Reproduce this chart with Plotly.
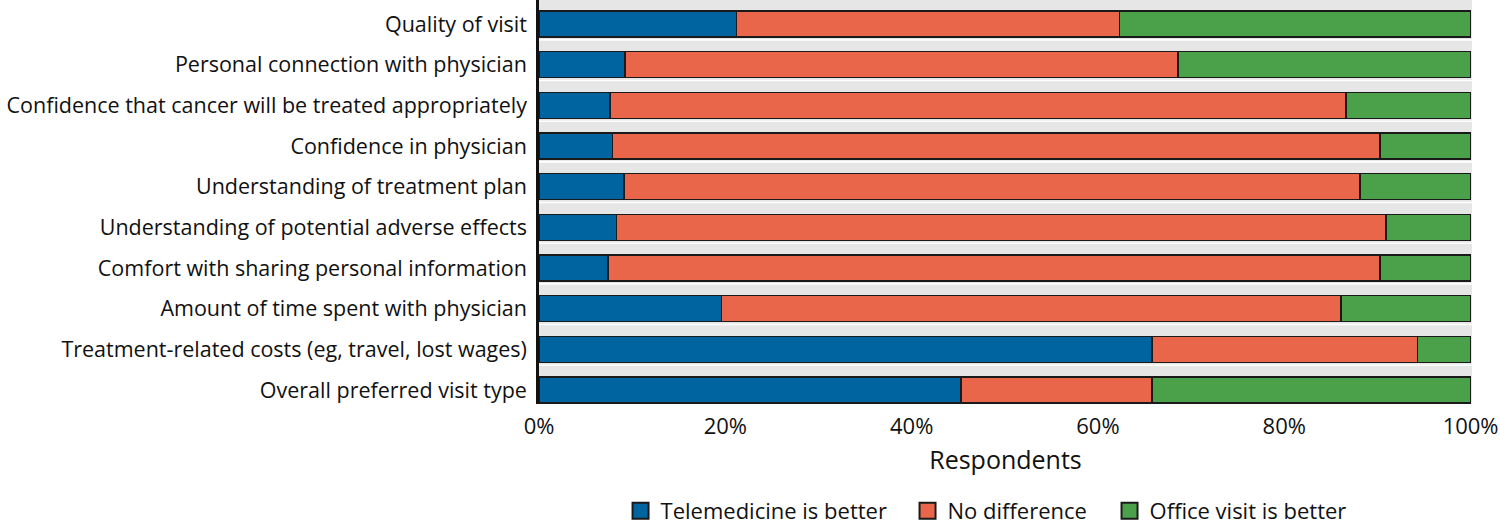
import plotly.graph_objects as go

categories = [
    "Quality of visit",
    "Personal connection with physician",
    "Confidence that cancer will be treated appropriately",
    "Confidence in physician",
    "Understanding of treatment plan",
    "Understanding of potential adverse effects",
    "Comfort with sharing personal information",
    "Amount of time spent with physician",
    "Treatment-related costs (eg, travel, lost wages)",
    "Overall preferred visit type",
]
telemedicine = [21.2, 9.2, 7.6, 7.9, 9.1, 8.3, 7.4, 19.6, 65.8, 45.3]
no_difference = [41.1, 59.4, 79.0, 82.4, 79.0, 82.6, 82.9, 66.5, 28.5, 20.5]
office = [37.7, 31.4, 13.4, 9.7, 11.9, 9.1, 9.7, 13.9, 5.7, 34.2]

series_names = ["Telemedicine is better", "No difference", "Office visit is better"]
colors = ["#0064a0", "#e9664a", "#4aa14a"]
x_ticks = [0, 20, 40, 60, 80, 100]
x_tick_labels = ["0%", "20%", "40%", "60%", "80%", "100%"]

FONT = "Open Sans"
pos = list(range(len(categories)))
legend_ids = ["legend", "legend2", "legend3"]
legend_x = [0.0874, 0.395, 0.6115]

fig = go.Figure()
for name, vals, col, lid in zip(series_names, [telemedicine, no_difference, office], colors, legend_ids):
    fig.add_trace(go.Bar(
        y=pos, x=vals, orientation="h", name=name,
        marker=dict(color=col, line=dict(color="#1a1a1a", width=1.6)),
        width=0.64, showlegend=False, hoverinfo="x+name",
    ))
    fig.add_trace(go.Scatter(
        x=[None], y=[None], mode="markers", name=name, legend=lid,
        marker=dict(symbol="square", size=16, color=col, line=dict(color="#1a1a1a", width=2)),
    ))

shapes = []
for i in pos:
    shapes.append(dict(type="rect", xref="x", yref="y", x0=0, x1=100.15,
                       y0=i - 0.59, y1=i + 0.37, fillcolor="#e6e6e6",
                       line=dict(width=0), layer="below"))

legend_layouts = {}
for lid, lx in zip(legend_ids, legend_x):
    legend_layouts[lid] = dict(orientation="h", x=lx, xanchor="left", y=-0.265, yanchor="middle",
                               font=dict(size=22), itemwidth=30, bgcolor="rgba(0,0,0,0)")

fig.update_layout(
    width=1500, height=524,
    margin=dict(l=539, r=28, t=0, b=120, autoexpand=False),
    plot_bgcolor="white", paper_bgcolor="white",
    barmode="stack", shapes=shapes,
    font=dict(family=FONT, size=22, color="#111111"),
    xaxis=dict(range=[0, 100.15], tickvals=x_ticks, ticktext=x_tick_labels,
               showgrid=False, zeroline=False, showline=False,
               tickfont=dict(size=22), ticks="", ticklabelstandoff=7,
               title=dict(text="Respondents", font=dict(size=25), standoff=12)),
    yaxis=dict(range=[9.344, -0.59], tickvals=pos, ticktext=categories,
               showgrid=False, zeroline=False, showline=True, linecolor="#111111",
               linewidth=2.5, ticks="", tickfont=dict(size=21.5), ticklabelstandoff=5),
    **legend_layouts,
)

fig.write_html("out.html", config={"displayModeBar": False},
               post_script="document.body.style.margin='0px';")
